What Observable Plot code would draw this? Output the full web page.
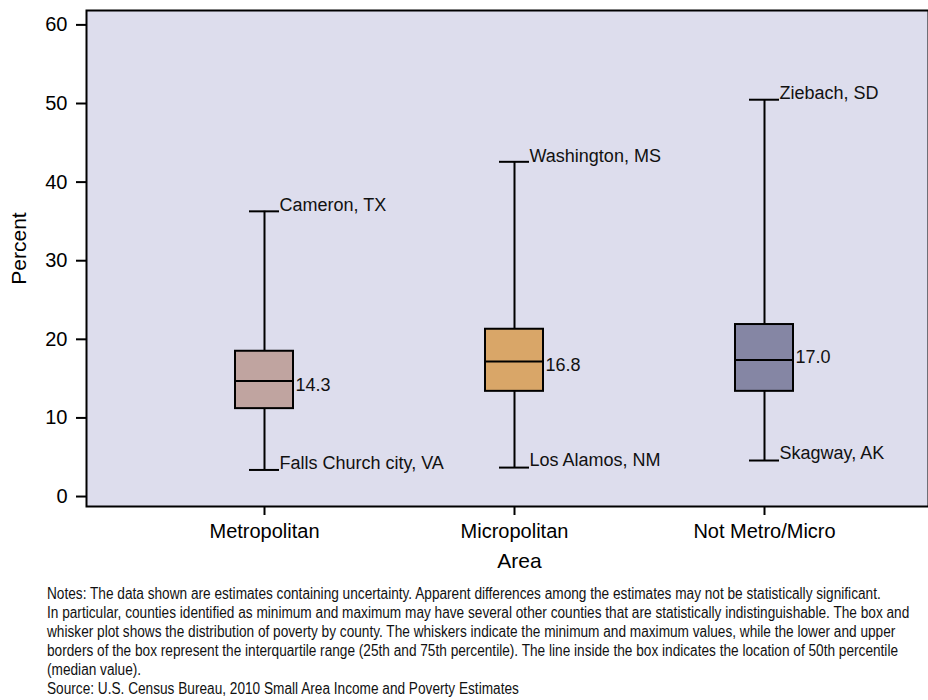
<!DOCTYPE html>
<html>
<head>
<meta charset="utf-8">
<script src="https://cdn.jsdelivr.net/npm/d3@7"></script>
<script src="https://cdn.jsdelivr.net/npm/@observablehq/plot@0.6"></script>
<style>
  html, body { margin: 0; padding: 0; background: white; overflow: hidden; }
  #chart svg { display: block; }
  #notes {
    margin-top: 1px;
    padding-left: 47px;
    font-family: "Liberation Sans", Arial, sans-serif;
    font-size: 16px;
    color: #111;
  }
  #notes div {
    height: 19px; line-height: 19px; white-space: nowrap;
    transform: scaleX(0.853); transform-origin: 0 50%;
  }
</style>
</head>
<body>
<div id="chart"></div>
<div id="notes"></div>
<script>
// ---- data ----
const areas = ["Metropolitan", "Micropolitan", "Not Metro/Micro"];
const minVals = [3.0, 3.3, 4.2];
const q1Vals = [10.8, 13.0, 13.0];
const medianVals = [14.3, 16.8, 17.0];
const q3Vals = [18.1, 20.9, 21.5];
const maxVals = [35.9, 42.2, 50.1];
const minLabels = ["Falls Church city, VA", "Los Alamos, NM", "Skagway, AK"];
const maxLabels = ["Cameron, TX", "Washington, MS", "Ziebach, SD"];
const yTicks = [0, 10, 20, 30, 40, 50, 60];
const boxColors = ["#c0a4a0", "#d9a668", "#8586a4"];
const noteLines = [
  "Notes: The data shown are estimates containing uncertainty. Apparent differences among the estimates may not be statistically significant.",
  "In particular, counties identified as minimum and maximum may have several other counties that are statistically indistinguishable. The box and",
  "whisker plot shows the distribution of poverty by county. The whiskers indicate the minimum and maximum values, while the lower and upper",
  "borders of the box represent the interquartile range (25th and 75th percentile). The line inside the box indicates the location of 50th percentile",
  "(median value).",
  "Source: U.S. Census Bureau, 2010 Small Area Income and Poverty Estimates"
];

const rows = areas.map((area, i) => ({
  area,
  min: minVals[i], q1: q1Vals[i], median: medianVals[i], q3: q3Vals[i], max: maxVals[i],
  minLabel: minLabels[i], maxLabel: maxLabels[i],
  medLabel: medianVals[i].toFixed(1)
}));

const chart = Plot.plot({
  width: 928,
  height: 583,
  marginTop: 10,
  marginLeft: 86,
  marginRight: 0,
  marginBottom: 77,
  style: {background: "white", fontFamily: "'Liberation Sans', Arial, sans-serif", fontSize: "18px", color: "black"},
  x: {domain: areas, range: [139, 889], paddingInner: 0.768, paddingOuter: 0.384},
  y: {domain: [-1.65, 61.45]},
  color: {domain: areas, range: boxColors},
  marks: [
    Plot.frame({fill: "#dddded"}),
    Plot.ruleX(rows, {x: "area", y1: "min", y2: "max", stroke: "black", strokeWidth: 2}),
    Plot.barY(rows, {x: "area", y1: "q1", y2: "q3", fill: "area", stroke: "black", strokeWidth: 2}),
    Plot.tickY(rows, {x: "area", y: "median", stroke: "black", strokeWidth: 2}),
    Plot.tickY(rows, {x: "area", y: "min", inset: 14, stroke: "black", strokeWidth: 2}),
    Plot.tickY(rows, {x: "area", y: "max", inset: 14, stroke: "black", strokeWidth: 2}),
    Plot.text(rows, {x: "area", y: "max", text: "maxLabel", textAnchor: "start", lineAnchor: "middle", dx: 15, dy: -6, fontSize: 18, fill: "#111"}),
    Plot.text(rows, {x: "area", y: "min", text: "minLabel", textAnchor: "start", lineAnchor: "middle", dx: 15, dy: -7, fontSize: 18, fill: "#111"}),
    Plot.text(rows, {filter: (d, i) => i < 2, x: "area", y: "median", text: "medLabel", textAnchor: "start", lineAnchor: "middle", dx: 31, dy: 4, fontSize: 18, fill: "#111"}),
    Plot.text(rows, {filter: (d, i) => i >= 2, x: "area", y: "median", text: "medLabel", textAnchor: "start", lineAnchor: "middle", dx: 31, dy: -3, fontSize: 18, fill: "#111"}),
    Plot.frame({stroke: "black", strokeWidth: 2}),
    Plot.axisY({ticks: yTicks, tickSize: 10, tickPadding: 9, fontSize: 20, strokeWidth: 2, label: null, dy: 3}),
    Plot.axisX({tickSize: 9, tickPadding: 8, fontSize: 20, strokeWidth: 2, label: null}),
    Plot.text(["Percent"], {frameAnchor: "left", text: d => d, rotate: -90, textAnchor: "middle", lineAnchor: "middle", dx: -67, dy: -10, fontSize: 21}),
    Plot.text(["Area"], {frameAnchor: "bottom", text: d => d, textAnchor: "middle", lineAnchor: "middle", dx: 12, dy: 55, fontSize: 21})
  ]
});
document.getElementById("chart").appendChild(chart);

const notes = document.getElementById("notes");
for (const line of noteLines) {
  const div = document.createElement("div");
  div.textContent = line;
  notes.appendChild(div);
}
</script>
</body>
</html>
